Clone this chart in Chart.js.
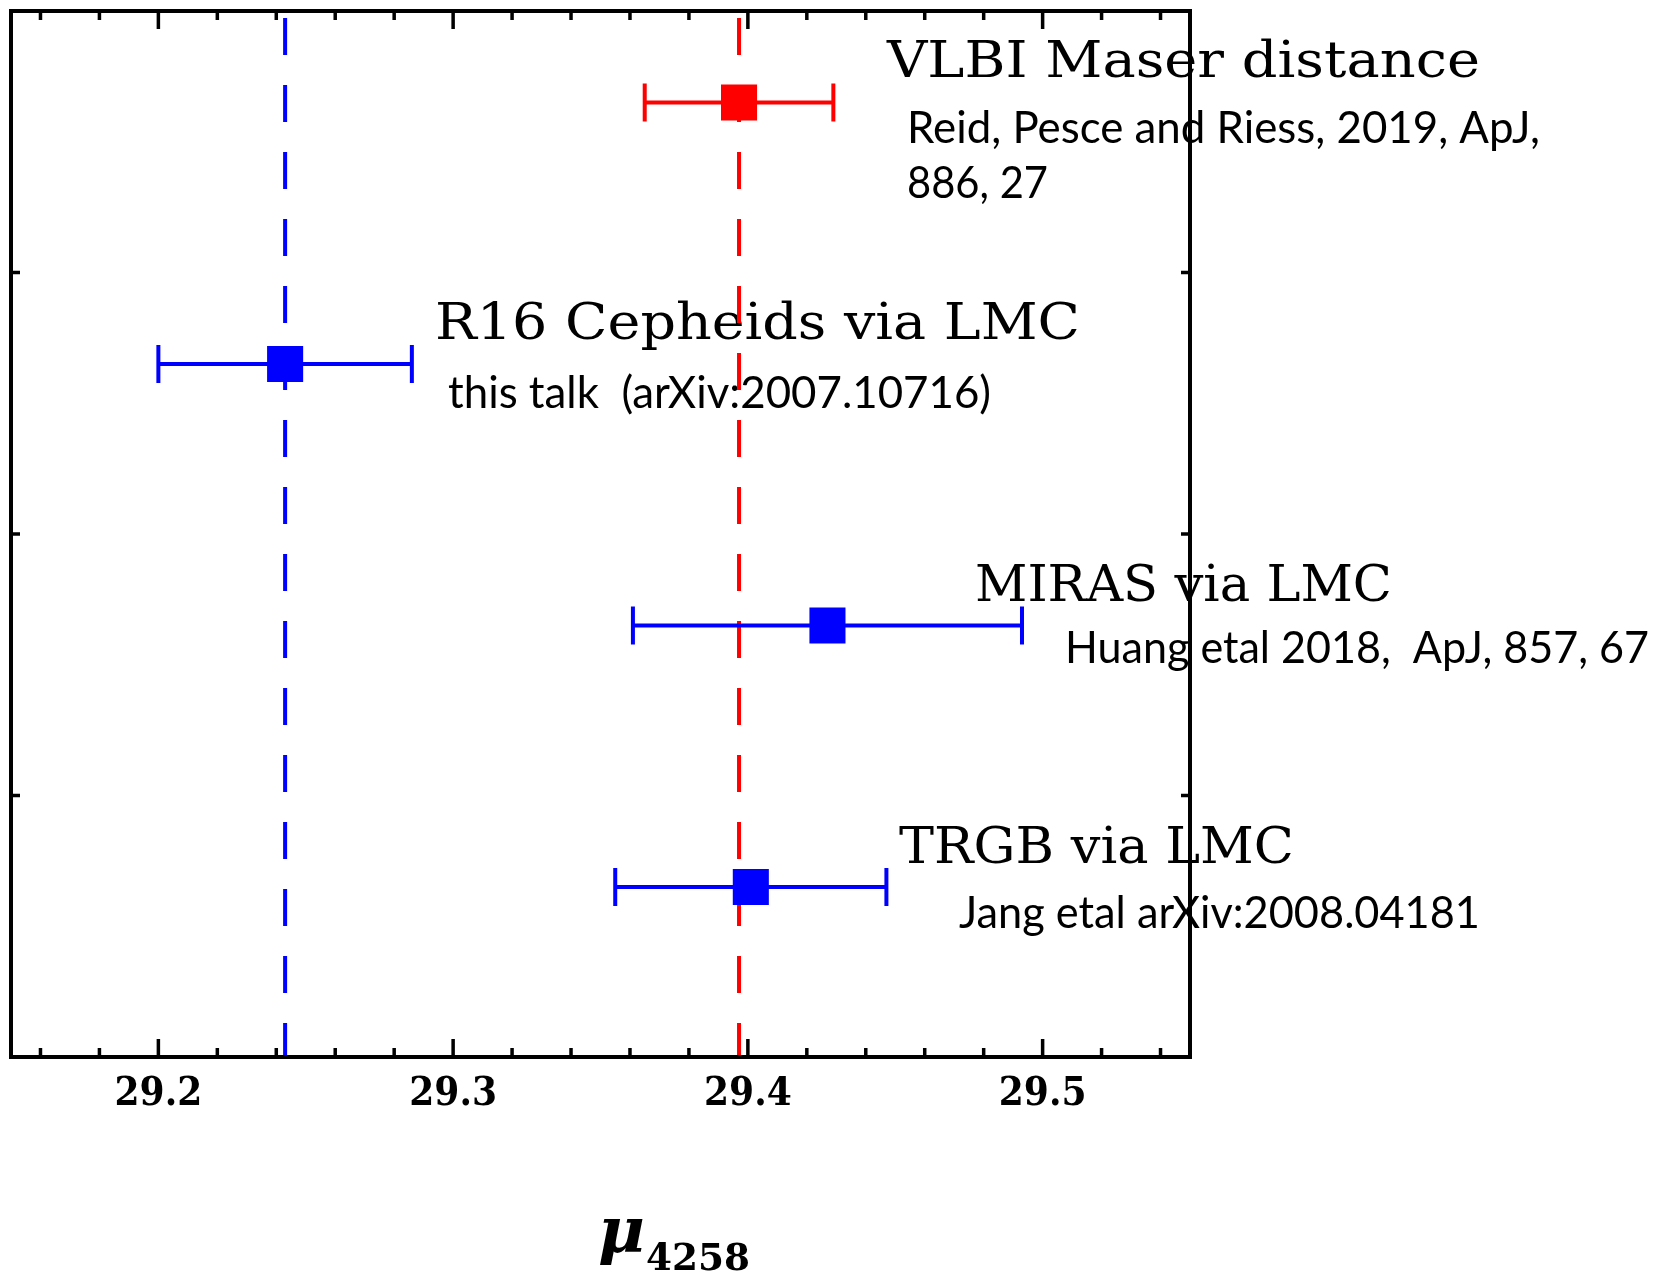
<!DOCTYPE html>
<html>
<head>
<meta charset="utf-8">
<title>NGC 4258 distance modulus</title>
<script src="https://cdn.jsdelivr.net/npm/chart.js@4.4.1/dist/chart.umd.min.js"></script>
<style>
  html, body { margin: 0; padding: 0; background: #fff; }
  #wrap { width: 1660px; height: 1276px; }
</style>
</head>
<body>
<div id="wrap"><canvas id="mu-chart" width="1660" height="1276"></canvas></div>
<script>
// distance modulus of NGC 4258 from each method
const methods = ["VLBI Maser distance", "R16 Cepheids via LMC", "MIRAS via LMC", "TRGB via LMC"];
const refs = [
  ["Reid, Pesce and Riess, 2019, ApJ,", "886, 27"],
  ["this talk  (arXiv:2007.10716)"],
  ["Huang etal 2018,  ApJ, 857, 67"],
  ["Jang etal arXiv:2008.04181"]
];
const muValues = [29.397, 29.243, 29.427, 29.401];
const muErrors = [0.032, 0.043, 0.066, 0.046];
const rowY = [3.65, 2.65, 1.65, 0.65];
const rowColors = ["#ff0000", "#0000ff", "#0000ff", "#0000ff"];

// vertical reference lines: maser value and our Cepheid value
const refLines = [29.397, 29.243];
const refLineColors = ["#ff0000", "#0000ff"];

const xTickLabels = [29.2, 29.3, 29.4, 29.5];
const xMinorStep = 0.02;
const yTickValues = [1, 2, 3];

// label placement: [x, baseline, width] for title and each reference line
const titlePos = [[887, 77, 593], [435, 339, 645], [975, 601, 417], [899, 863, 395]];
const refPos = [
  [[907, 143, 633], [907, 198, 141]],
  [[448, 408, 543]],
  [[1065, 663, 584]],
  [[959, 928, 521]]
];

function fitText(ctx, str, x, y, width) {
  const w = ctx.measureText(str).width;
  ctx.save();
  ctx.translate(x, y);
  ctx.scale(width / w, 1);
  ctx.fillText(str, 0, 0);
  ctx.restore();
}

const labelsPlugin = {
  id: "labels",
  beforeDatasetsDraw(chart) {
    const ctx = chart.ctx;
    ctx.save();
    ctx.fillStyle = "#000";
    ctx.textBaseline = "alphabetic";
    ctx.textAlign = "left";
    methods.forEach((m, i) => {
      ctx.font = "50px 'DejaVu Serif'";
      fitText(ctx, m, titlePos[i][0], titlePos[i][1], titlePos[i][2]);
      ctx.font = "44px Lato";
      refs[i].forEach((r, j) => {
        const p = refPos[i][j];
        fitText(ctx, r, p[0], p[1], p[2]);
      });
    });
    ctx.restore();
  }
};

const errorBarPlugin = {
  id: "errorBars",
  beforeDatasetDraw(chart, args) {
    if (args.index !== 2) return;
    const ctx = chart.ctx;
    const xs = chart.scales.x, ys = chart.scales.y;
    const cap = 19;
    ctx.save();
    ctx.lineWidth = 4;
    muValues.forEach((v, i) => {
      const y = ys.getPixelForValue(rowY[i]);
      const x0 = xs.getPixelForValue(v - muErrors[i]);
      const x1 = xs.getPixelForValue(v + muErrors[i]);
      ctx.strokeStyle = rowColors[i];
      ctx.beginPath();
      ctx.moveTo(x0, y); ctx.lineTo(x1, y);
      ctx.moveTo(x0, y - cap); ctx.lineTo(x0, y + cap);
      ctx.moveTo(x1, y - cap); ctx.lineTo(x1, y + cap);
      ctx.stroke();
    });
    ctx.restore();
  }
};

// box frame with inward ticks on all four sides
const framePlugin = {
  id: "frame",
  afterDatasetsDraw(chart) {
    const ctx = chart.ctx;
    const a = chart.chartArea;
    const xs = chart.scales.x, ys = chart.scales.y;
    ctx.save();
    ctx.strokeStyle = "#000";
    ctx.lineWidth = 3.5;
    ctx.beginPath();
    for (let k = Math.ceil(29.15 / xMinorStep); k * xMinorStep <= 29.55 + 1e-9; k++) {
      const v = +(k * xMinorStep).toFixed(2);
      const major = xTickLabels.some(t => Math.abs(t - v) < 1e-6);
      const len = major ? 18 : 9;
      const px = xs.getPixelForValue(v);
      ctx.moveTo(px, a.bottom); ctx.lineTo(px, a.bottom - len);
      ctx.moveTo(px, a.top); ctx.lineTo(px, a.top + len);
    }
    yTickValues.forEach(v => {
      const py = ys.getPixelForValue(v);
      ctx.moveTo(a.left, py); ctx.lineTo(a.left + 9, py);
      ctx.moveTo(a.right, py); ctx.lineTo(a.right - 9, py);
    });
    ctx.stroke();
    ctx.lineWidth = 4;
    ctx.strokeRect(a.left, a.top, a.right - a.left, a.bottom - a.top);
    ctx.restore();
  }
};

const axisTitlePlugin = {
  id: "axisTitle",
  afterDraw(chart) {
    const ctx = chart.ctx;
    ctx.save();
    ctx.fillStyle = "#000";
    ctx.textAlign = "left";
    ctx.textBaseline = "alphabetic";
    ctx.font = "italic bold 64px 'DejaVu Serif'";
    ctx.fillText("\u03bc", 598, 1252);
    ctx.font = "bold 38px 'DejaVu Serif'";
    fitText(ctx, "4258", 646, 1270, 104);
    ctx.restore();
  }
};

const lineSets = refLines.map((v, i) => ({
  type: "line",
  data: [{ x: v, y: 4 }, { x: v, y: 0 }],
  borderColor: refLineColors[i],
  borderWidth: 4,
  borderDash: [37, 30],
  borderDashOffset: 60,
  pointRadius: 0,
  order: 2
}));

const pointSet = {
  type: "scatter",
  data: muValues.map((v, i) => ({ x: v, y: rowY[i] })),
  pointStyle: "rect",
  pointRadius: 25.5,
  pointHoverRadius: 25.5,
  borderWidth: 0,
  backgroundColor: rowColors,
  pointBackgroundColor: rowColors,
  order: 1
};

new Chart(document.getElementById("mu-chart").getContext("2d"), {
  type: "scatter",
  data: { datasets: [...lineSets, pointSet] },
  options: {
    responsive: false,
    animation: false,
    layout: { autoPadding: false, padding: { left: 11, top: 11, right: 470, bottom: 0 } },
    plugins: { legend: { display: false }, tooltip: { enabled: false } },
    scales: {
      x: {
        type: "linear",
        min: 29.15,
        max: 29.55,
        afterBuildTicks: s => { s.ticks = xTickLabels.map(v => ({ value: v })); },
        afterFit: s => { s.height = 219; },
        grid: { display: false, drawTicks: false },
        border: { display: false },
        ticks: {
          autoSkip: false,
          maxRotation: 0,
          padding: 14,
          color: "#000",
          font: { family: "'DejaVu Serif Condensed', 'DejaVu Serif'", size: 40, weight: "bold" },
          callback: v => v.toFixed(1)
        }
      },
      y: { display: false, min: 0, max: 4 }
    }
  },
  plugins: [labelsPlugin, errorBarPlugin, framePlugin, axisTitlePlugin]
});
</script>
</body>
</html>
